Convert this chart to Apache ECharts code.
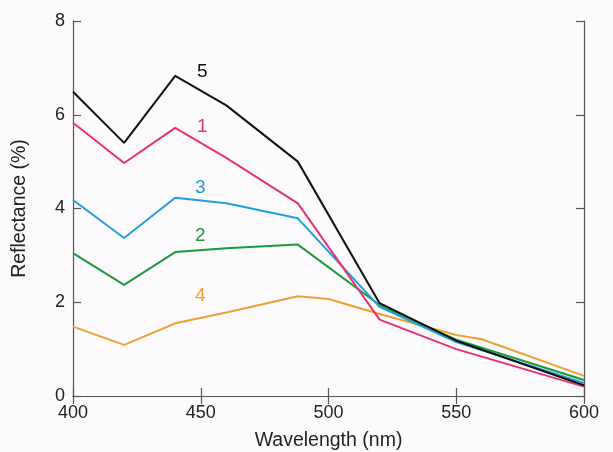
<!DOCTYPE html>
<html><head><meta charset="utf-8">
<script src="https://cdn.jsdelivr.net/npm/echarts@6/dist/echarts.min.js"></script>
<style>html,body{margin:0;padding:0;background:#fdfafd;}#c{width:613px;height:452px;}</style>
</head><body><div id="c"></div>
<script>
const s5 = [[400,6.49],[420,5.40],[440,6.83],[460,6.20],[488,5.00],[520,1.98],[550,1.18],[600,0.23]];
const s1 = [[400,5.83],[420,4.97],[440,5.72],[460,5.08],[488,4.11],[520,1.63],[550,1.00],[600,0.20]];
const s3 = [[400,4.18],[420,3.37],[440,4.23],[460,4.11],[488,3.79],[520,1.90],[550,1.15],[600,0.28]];
const s2 = [[400,3.05],[420,2.37],[440,3.07],[460,3.15],[488,3.23],[520,1.94],[550,1.20],[600,0.34]];
const s4 = [[400,1.48],[420,1.09],[440,1.55],[460,1.78],[488,2.13],[500,2.07],[520,1.75],[550,1.30],[560,1.21],[600,0.43]];
const names = ['5','1','3','2','4'];
const colors = ['#111111','#e8336e','#1ea0dc','#1a9a3a','#f0a030'];
const datasets = [s5,s1,s3,s2,s4];
const labelPos = [[197,62],[197,117],[195,178],[195,226],[195,286]];

const chart = echarts.init(document.getElementById('c'));
const axisLine = {show:true, lineStyle:{color:'#555', width:1.2}};
const tick = {show:true, inside:true, length:8, lineStyle:{color:'#555', width:1.2}};
const font = {fontFamily:'Liberation Sans, Arial, sans-serif'};
chart.setOption({
  backgroundColor:'#fdfafd',
  animation:false,
  grid:{left:73, right:29, top:21, bottom:56, containLabel:false, outerBoundsMode:'none'},
  xAxis:[
    {type:'value', min:400, max:600, interval:50, axisLine, axisTick:tick,
     splitLine:{show:false}, axisLabel:{color:'#222', fontSize:18, margin:8, ...font},
     name:'Wavelength (nm)', nameLocation:'middle', nameGap:35,
     nameTextStyle:{color:'#222', fontSize:19.5, ...font}},
    {type:'value', position:'top', min:400, max:600, interval:50, axisLine, axisTick:tick,
     splitLine:{show:false}, axisLabel:{show:false}}
  ],
  yAxis:[
    {type:'value', min:0, max:8, interval:2, axisLine, axisTick:tick,
     splitLine:{show:false}, axisLabel:{color:'#222', fontSize:18, margin:8, ...font},
     name:'Reflectance (%)', nameLocation:'middle', nameGap:43,
     nameTextStyle:{color:'#222', fontSize:19.5, ...font}},
    {type:'value', position:'right', min:0, max:8, interval:2, axisLine, axisTick:tick,
     splitLine:{show:false}, axisLabel:{show:false}}
  ],
  series: datasets.map((d,i)=>({
    type:'line', name:names[i], data:d, showSymbol:false, symbol:'none',
    lineStyle:{color:colors[i], width:2}, z: 10-i
  })),
  graphic: names.map((n,i)=>({
    type:'text', left:labelPos[i][0], top:labelPos[i][1],
    style:{text:n, fill:colors[i], fontSize:19, fontFamily:'Liberation Sans, Arial, sans-serif'}
  }))
});
</script></body></html>
